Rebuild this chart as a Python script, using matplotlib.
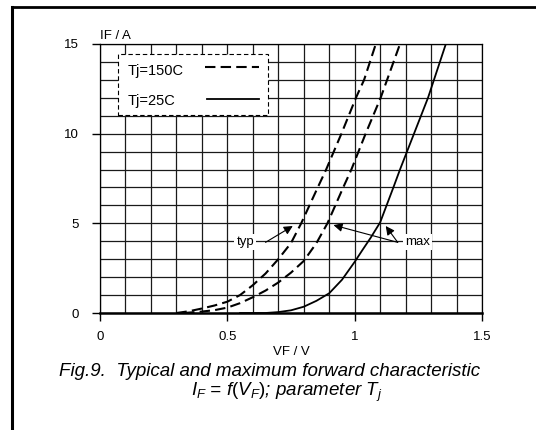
import numpy as np
import matplotlib
matplotlib.use("Agg")
import matplotlib.pyplot as plt
from matplotlib.lines import Line2D
from matplotlib.patches import Rectangle

plt.rcParams['font.family'] = ['Liberation Sans', 'DejaVu Sans']
plt.rcParams['mathtext.fontset'] = 'custom'
plt.rcParams['mathtext.rm'] = 'Liberation Sans'
plt.rcParams['mathtext.it'] = 'Liberation Sans:italic'

# forward characteristic
v_150_typ = [0.30, 0.35, 0.40, 0.45, 0.50, 0.55, 0.60, 0.65, 0.70, 0.75, 0.79, 0.855, 0.888,
             0.948, 1.005, 1.037, 1.083]
i_150_typ = [0.0, 0.1, 0.25, 0.42, 0.63, 1.0, 1.55, 2.2, 3.0, 3.9, 5.0, 7.0, 8.0,
             10.0, 12.0, 13.0, 15.0]

v_150_max = [0.33, 0.40, 0.45, 0.50, 0.55, 0.60, 0.65, 0.70, 0.75, 0.80, 0.85, 0.893, 0.955,
             0.987, 1.043, 1.102, 1.178]
i_150_max = [0.0, 0.08, 0.16, 0.3, 0.55, 0.88, 1.25, 1.7, 2.25, 2.9, 3.9, 5.0, 7.0,
             8.0, 10.0, 12.0, 15.0]

v_25_max = [0.55, 0.65, 0.70, 0.75, 0.80, 0.85, 0.90, 0.95, 1.00, 1.03, 1.063, 1.10, 1.152,
            1.178, 1.233, 1.288, 1.358]
i_25_max = [0.0, 0.0, 0.05, 0.15, 0.35, 0.68, 1.1, 1.85, 2.85, 3.5, 4.2, 5.05, 7.0,
            8.0, 10.0, 12.0, 15.0]

x_ticks = [0, 0.5, 1.0, 1.5]
x_ticklabels = ['0', '0.5', '1', '1.5']
y_ticks = [0, 5, 10, 15]
legend_labels = ['Tj=150C', 'Tj=25C']

fig = plt.figure(figsize=(5.36, 4.30), dpi=100)
ax = fig.add_axes([100 / 536, 117 / 430, 382 / 536, 269 / 430])

dash = (0, (5, 2.5))
ax.plot(v_150_typ, i_150_typ, color='black', lw=1.5, ls=dash, zorder=3)
ax.plot(v_150_max, i_150_max, color='black', lw=1.5, ls=dash, zorder=3)
ax.plot(v_25_max, i_25_max, color='black', lw=1.3, zorder=3)

ax.set_xlim(0, 1.5)
ax.set_ylim(0, 15)
ax.set_xticks(x_ticks)
ax.set_xticklabels(x_ticklabels)
ax.set_yticks(y_ticks)
ax.set_xticks(np.arange(0, 1.51, 0.1), minor=True)
ax.set_yticks(np.arange(0, 15.1, 1), minor=True)
ax.tick_params(which='minor', length=0)
ax.tick_params(which='major', direction='out', length=6, width=1, labelsize=9.5, color='black')
ax.tick_params(axis='x', pad=7)
ax.tick_params(axis='y', pad=9)
ax.grid(which='both', color='#1a1a1a', lw=0.9)
ax.set_axisbelow(True)
for s in ['top', 'right', 'left']:
    ax.spines[s].set_linewidth(0.9)
ax.spines['bottom'].set_linewidth(1.8)

ax.set_xlabel('VF / V', fontsize=9.5, labelpad=2)
ax.text(0, 1.008, 'IF / A', transform=ax.transAxes, ha='left', va='bottom', fontsize=9.5)

# legend box drawn by hand (labels left, line samples right)
ax.add_patch(Rectangle((0.047, 0.737), 0.393, 0.226, transform=ax.transAxes, facecolor='white',
                       edgecolor='black', ls=(0, (4, 2.5)), lw=0.8, zorder=4))
ax.text(0.073, 0.900, legend_labels[0], transform=ax.transAxes, ha='left', va='center',
        fontsize=10.5, zorder=5)
ax.text(0.073, 0.789, legend_labels[1], transform=ax.transAxes, ha='left', va='center',
        fontsize=10.5, zorder=5)
ax.add_line(Line2D([0.276, 0.415], [0.916, 0.916], transform=ax.transAxes, color='black',
                   lw=1.5, ls=dash, zorder=5))
ax.add_line(Line2D([0.281, 0.415], [0.795, 0.795], transform=ax.transAxes, color='black',
                   lw=1.3, zorder=5))

arrow = dict(arrowstyle='-|>', mutation_scale=13, lw=0.8, color='black', shrinkA=0, shrinkB=0)
box = dict(facecolor='white', edgecolor='none', pad=1.5)
ax.text(0.571, 3.94, 'typ', ha='center', va='center', fontsize=9.5, bbox=box, zorder=4)
ax.annotate('', xy=(0.757, 4.85), xytext=(0.65, 3.94), arrowprops=arrow, zorder=5)
ax.text(1.248, 3.94, 'max', ha='center', va='center', fontsize=9.5, bbox=box, zorder=4)
ax.annotate('', xy=(0.917, 4.9), xytext=(1.169, 3.94), arrowprops=arrow, zorder=5)
ax.annotate('', xy=(1.122, 4.85), xytext=(1.169, 3.94), arrowprops=arrow, zorder=5)

fig.text(270 / 536, 1 - 372 / 430, 'Fig.9.  Typical and maximum forward characteristic',
         ha='center', va='center', fontsize=13.5, style='italic')
fig.text(287 / 536, 1 - 392 / 430, r'$I_F$ = $f(V_F)$; parameter $T_j$',
         ha='center', va='center', fontsize=13.5, style='italic')

# page frame of the scan
fig.add_artist(Line2D([11.5 / 536, 11.5 / 536], [0, 1 - 7 / 430], transform=fig.transFigure,
                      color='black', lw=2.2))
fig.add_artist(Line2D([11.5 / 536, 1], [1 - 7 / 430, 1 - 7 / 430], transform=fig.transFigure,
                      color='black', lw=2.0))

fig.savefig('out.png', dpi=100)
